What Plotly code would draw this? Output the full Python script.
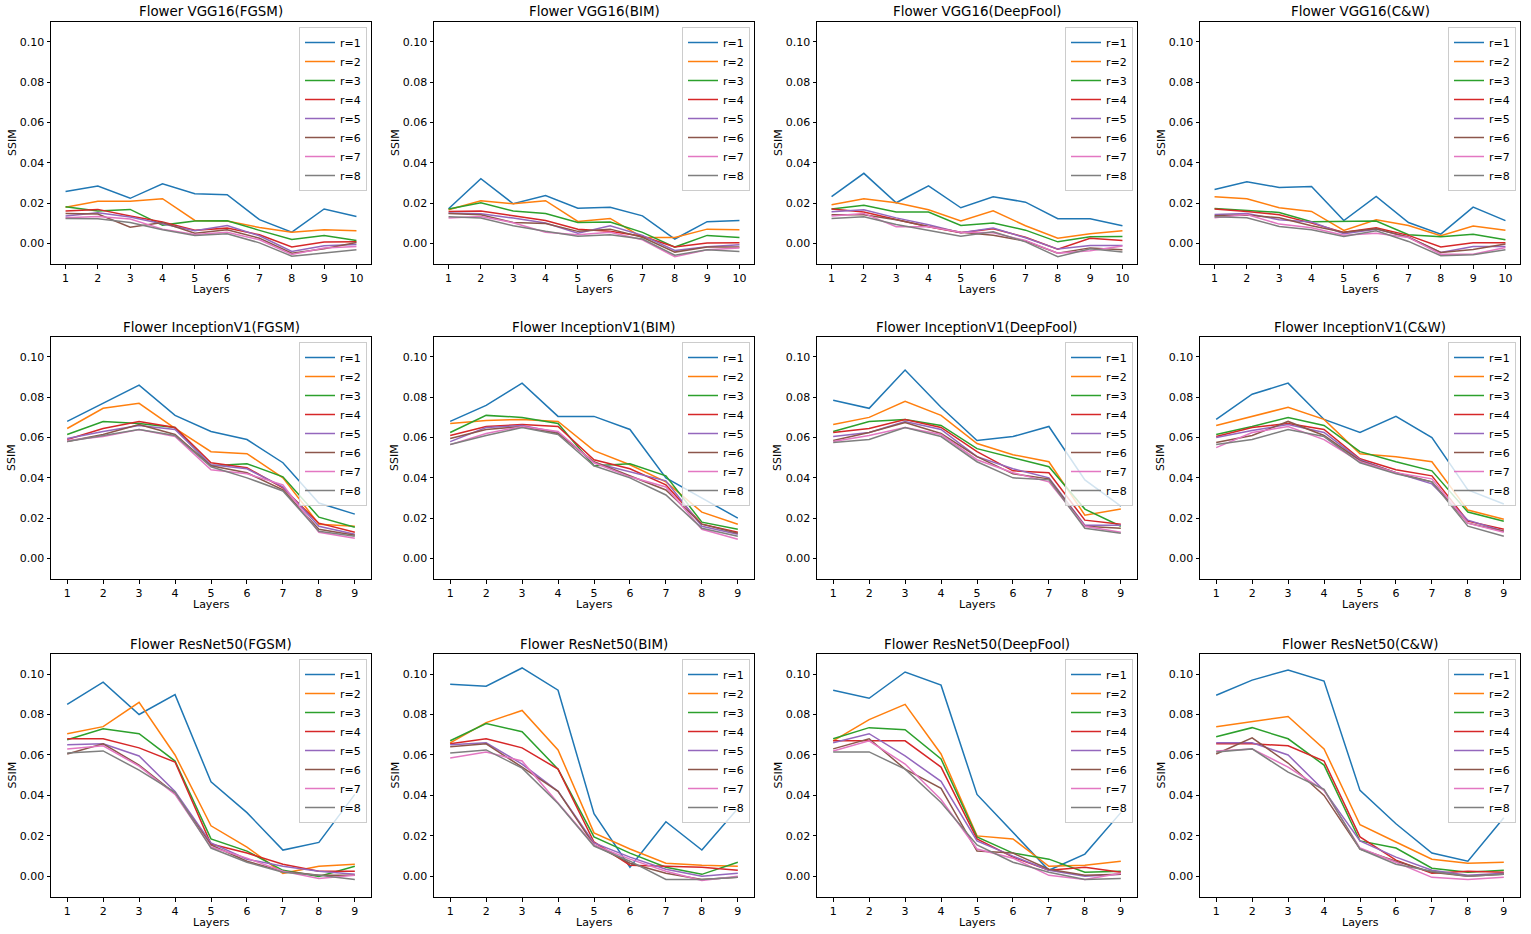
import plotly.graph_objects as go

W, H = 1531, 934

layers10 = list(range(1, 11))
layers9 = list(range(1, 10))
r_labels = ["r=1", "r=2", "r=3", "r=4", "r=5", "r=6", "r=7", "r=8"]
models = ["VGG16", "InceptionV1", "ResNet50"]
attacks = ["FGSM", "BIM", "DeepFool", "C&W"]
y_ticks = [0.00, 0.02, 0.04, 0.06, 0.08, 0.10]

vgg16_fgsm = [
    [0.0258, 0.0285, 0.0224, 0.0296, 0.0247, 0.0242, 0.0118, 0.0056, 0.0171, 0.0134],
    [0.0180, 0.0209, 0.0209, 0.0222, 0.0114, 0.0111, 0.0079, 0.0056, 0.0068, 0.0063],
    [0.0182, 0.0161, 0.0169, 0.0091, 0.0111, 0.0113, 0.0065, 0.0020, 0.0040, 0.0015],
    [0.0161, 0.0169, 0.0136, 0.0106, 0.0065, 0.0076, 0.0043, -0.0018, 0.0007, 0.0008],
    [0.0136, 0.0152, 0.0131, 0.0098, 0.0063, 0.0089, 0.0038, -0.0040, -0.0012, -0.0005],
    [0.0149, 0.0146, 0.0081, 0.0104, 0.0051, 0.0068, 0.0026, -0.0048, -0.0026, 0.0005],
    [0.0127, 0.0134, 0.0121, 0.0071, 0.0045, 0.0056, 0.0018, -0.0055, -0.0023, -0.0015],
    [0.0124, 0.0123, 0.0104, 0.0068, 0.0040, 0.0048, 0.0003, -0.0063, -0.0048, -0.0031],
]
vgg16_bim = [
    [0.0172, 0.0321, 0.0197, 0.0238, 0.0175, 0.0180, 0.0137, 0.0022, 0.0108, 0.0114],
    [0.0167, 0.0212, 0.0197, 0.0212, 0.0109, 0.0124, 0.0030, 0.0030, 0.0071, 0.0068],
    [0.0171, 0.0202, 0.0161, 0.0149, 0.0104, 0.0106, 0.0055, -0.0018, 0.0040, 0.0030],
    [0.0159, 0.0161, 0.0137, 0.0114, 0.0071, 0.0061, 0.0036, -0.0018, 0.0002, 0.0003],
    [0.0151, 0.0147, 0.0126, 0.0101, 0.0051, 0.0088, 0.0040, -0.0035, -0.0017, -0.0007],
    [0.0149, 0.0142, 0.0104, 0.0099, 0.0060, 0.0071, 0.0031, -0.0043, -0.0018, -0.0018],
    [0.0126, 0.0134, 0.0103, 0.0056, 0.0043, 0.0055, 0.0018, -0.0066, -0.0031, -0.0023],
    [0.0132, 0.0126, 0.0088, 0.0060, 0.0036, 0.0043, 0.0022, -0.0058, -0.0031, -0.0040],
]
vgg16_deepfool = [
    [0.0232, 0.0348, 0.0202, 0.0286, 0.0177, 0.0232, 0.0205, 0.0123, 0.0123, 0.0088],
    [0.0192, 0.0222, 0.0202, 0.0167, 0.0111, 0.0162, 0.0088, 0.0026, 0.0048, 0.0063],
    [0.0171, 0.0190, 0.0156, 0.0156, 0.0089, 0.0101, 0.0066, 0.0008, 0.0033, 0.0035],
    [0.0171, 0.0156, 0.0119, 0.0083, 0.0053, 0.0073, 0.0031, -0.0028, 0.0026, 0.0015],
    [0.0157, 0.0167, 0.0127, 0.0093, 0.0053, 0.0076, 0.0028, -0.0028, -0.0010, -0.0010],
    [0.0142, 0.0142, 0.0118, 0.0084, 0.0056, 0.0041, 0.0012, -0.0048, -0.0022, -0.0031],
    [0.0136, 0.0149, 0.0083, 0.0083, 0.0055, 0.0053, 0.0015, -0.0048, -0.0036, -0.0013],
    [0.0124, 0.0132, 0.0094, 0.0065, 0.0036, 0.0058, 0.0008, -0.0066, -0.0026, -0.0043],
]
vgg16_cw = [
    [0.0268, 0.0306, 0.0278, 0.0283, 0.0114, 0.0233, 0.0104, 0.0046, 0.0180, 0.0113],
    [0.0232, 0.0222, 0.0177, 0.0159, 0.0065, 0.0118, 0.0089, 0.0038, 0.0086, 0.0065],
    [0.0174, 0.0164, 0.0154, 0.0108, 0.0111, 0.0111, 0.0043, 0.0033, 0.0046, 0.0018],
    [0.0171, 0.0159, 0.0142, 0.0101, 0.0055, 0.0078, 0.0040, -0.0017, 0.0003, 0.0003],
    [0.0144, 0.0149, 0.0118, 0.0106, 0.0048, 0.0071, 0.0031, -0.0045, -0.0015, -0.0015],
    [0.0137, 0.0141, 0.0127, 0.0088, 0.0055, 0.0073, 0.0031, -0.0045, -0.0030, -0.0003],
    [0.0127, 0.0144, 0.0096, 0.0078, 0.0041, 0.0050, 0.0030, -0.0053, -0.0053, -0.0020],
    [0.0132, 0.0127, 0.0084, 0.0068, 0.0035, 0.0063, 0.0010, -0.0061, -0.0056, -0.0031],
]

inception_fgsm = [
    [0.0680, 0.0770, 0.0860, 0.0710, 0.0630, 0.0590, 0.0475, 0.0275, 0.0220],
    [0.0645, 0.0745, 0.0770, 0.0645, 0.0530, 0.0520, 0.0400, 0.0170, 0.0160],
    [0.0615, 0.0680, 0.0670, 0.0650, 0.0460, 0.0470, 0.0405, 0.0205, 0.0155],
    [0.0590, 0.0645, 0.0680, 0.0650, 0.0475, 0.0450, 0.0350, 0.0175, 0.0130],
    [0.0595, 0.0630, 0.0660, 0.0640, 0.0465, 0.0445, 0.0355, 0.0160, 0.0120],
    [0.0580, 0.0615, 0.0665, 0.0615, 0.0460, 0.0425, 0.0340, 0.0145, 0.0115],
    [0.0585, 0.0605, 0.0640, 0.0605, 0.0440, 0.0420, 0.0365, 0.0130, 0.0100],
    [0.0580, 0.0610, 0.0640, 0.0610, 0.0455, 0.0400, 0.0335, 0.0135, 0.0110],
]
inception_bim = [
    [0.0680, 0.0760, 0.0870, 0.0705, 0.0705, 0.0640, 0.0400, 0.0300, 0.0200],
    [0.0670, 0.0685, 0.0690, 0.0680, 0.0535, 0.0465, 0.0380, 0.0230, 0.0170],
    [0.0625, 0.0710, 0.0700, 0.0670, 0.0460, 0.0470, 0.0410, 0.0180, 0.0145],
    [0.0610, 0.0655, 0.0665, 0.0655, 0.0490, 0.0445, 0.0365, 0.0170, 0.0130],
    [0.0580, 0.0650, 0.0660, 0.0625, 0.0475, 0.0430, 0.0385, 0.0160, 0.0120],
    [0.0595, 0.0640, 0.0655, 0.0620, 0.0480, 0.0410, 0.0340, 0.0170, 0.0125],
    [0.0565, 0.0620, 0.0655, 0.0630, 0.0475, 0.0405, 0.0355, 0.0145, 0.0095],
    [0.0565, 0.0610, 0.0650, 0.0615, 0.0460, 0.0400, 0.0315, 0.0150, 0.0110],
]
inception_deepfool = [
    [0.0785, 0.0745, 0.0935, 0.0750, 0.0585, 0.0605, 0.0655, 0.0390, 0.0260],
    [0.0665, 0.0700, 0.0780, 0.0710, 0.0570, 0.0515, 0.0480, 0.0215, 0.0245],
    [0.0630, 0.0680, 0.0690, 0.0660, 0.0545, 0.0500, 0.0455, 0.0245, 0.0160],
    [0.0625, 0.0645, 0.0690, 0.0650, 0.0530, 0.0435, 0.0425, 0.0190, 0.0170],
    [0.0605, 0.0625, 0.0680, 0.0640, 0.0505, 0.0445, 0.0400, 0.0165, 0.0165],
    [0.0585, 0.0625, 0.0675, 0.0620, 0.0505, 0.0420, 0.0395, 0.0160, 0.0150],
    [0.0580, 0.0610, 0.0650, 0.0615, 0.0490, 0.0425, 0.0380, 0.0160, 0.0130],
    [0.0575, 0.0590, 0.0650, 0.0605, 0.0480, 0.0400, 0.0390, 0.0150, 0.0125],
]
inception_cw = [
    [0.0690, 0.0815, 0.0870, 0.0690, 0.0625, 0.0705, 0.0600, 0.0340, 0.0270],
    [0.0660, 0.0705, 0.0750, 0.0690, 0.0520, 0.0505, 0.0480, 0.0240, 0.0195],
    [0.0615, 0.0655, 0.0700, 0.0660, 0.0530, 0.0480, 0.0435, 0.0230, 0.0185],
    [0.0605, 0.0650, 0.0670, 0.0640, 0.0495, 0.0440, 0.0410, 0.0185, 0.0145],
    [0.0600, 0.0635, 0.0665, 0.0625, 0.0490, 0.0425, 0.0370, 0.0190, 0.0135],
    [0.0575, 0.0610, 0.0680, 0.0610, 0.0485, 0.0425, 0.0380, 0.0175, 0.0135],
    [0.0550, 0.0625, 0.0655, 0.0590, 0.0480, 0.0425, 0.0395, 0.0175, 0.0130],
    [0.0565, 0.0590, 0.0640, 0.0605, 0.0475, 0.0420, 0.0380, 0.0160, 0.0110],
]

resnet_fgsm = [
    [0.0850, 0.0960, 0.0800, 0.0898, 0.0467, 0.0315, 0.0130, 0.0168, 0.0405],
    [0.0705, 0.0740, 0.0860, 0.0600, 0.0250, 0.0145, 0.0015, 0.0050, 0.0060],
    [0.0675, 0.0730, 0.0705, 0.0570, 0.0185, 0.0125, 0.0030, 0.0000, 0.0050],
    [0.0680, 0.0680, 0.0635, 0.0565, 0.0160, 0.0115, 0.0060, 0.0025, 0.0025],
    [0.0650, 0.0655, 0.0595, 0.0420, 0.0165, 0.0085, 0.0050, 0.0025, 0.0010],
    [0.0605, 0.0655, 0.0550, 0.0410, 0.0155, 0.0075, 0.0025, 0.0005, 0.0005],
    [0.0630, 0.0645, 0.0545, 0.0405, 0.0145, 0.0090, 0.0025, -0.0010, 0.0005],
    [0.0610, 0.0620, 0.0525, 0.0415, 0.0140, 0.0070, 0.0020, 0.0005, -0.0015],
]
resnet_bim = [
    [0.0950, 0.0940, 0.1030, 0.0920, 0.0310, 0.0045, 0.0270, 0.0130, 0.0335],
    [0.0660, 0.0760, 0.0820, 0.0625, 0.0215, 0.0135, 0.0065, 0.0055, 0.0050],
    [0.0670, 0.0755, 0.0715, 0.0530, 0.0195, 0.0115, 0.0045, 0.0010, 0.0070],
    [0.0655, 0.0680, 0.0635, 0.0530, 0.0170, 0.0055, 0.0050, 0.0045, 0.0030],
    [0.0650, 0.0660, 0.0555, 0.0420, 0.0165, 0.0095, 0.0035, 0.0000, 0.0015],
    [0.0640, 0.0655, 0.0540, 0.0420, 0.0155, 0.0065, 0.0015, -0.0015, -0.0005],
    [0.0585, 0.0615, 0.0570, 0.0360, 0.0155, 0.0085, 0.0025, -0.0020, 0.0000],
    [0.0610, 0.0625, 0.0535, 0.0360, 0.0150, 0.0075, -0.0015, -0.0015, -0.0005],
]
resnet_deepfool = [
    [0.0920, 0.0880, 0.1010, 0.0945, 0.0405, 0.0220, 0.0030, 0.0110, 0.0315],
    [0.0670, 0.0775, 0.0850, 0.0605, 0.0200, 0.0185, 0.0050, 0.0055, 0.0075],
    [0.0680, 0.0735, 0.0725, 0.0580, 0.0195, 0.0115, 0.0085, 0.0020, 0.0025],
    [0.0670, 0.0670, 0.0670, 0.0540, 0.0185, 0.0095, 0.0030, 0.0045, 0.0020],
    [0.0660, 0.0705, 0.0595, 0.0470, 0.0175, 0.0100, 0.0030, 0.0000, 0.0010],
    [0.0630, 0.0680, 0.0530, 0.0435, 0.0125, 0.0115, 0.0035, 0.0005, 0.0010],
    [0.0620, 0.0670, 0.0555, 0.0380, 0.0135, 0.0090, 0.0005, -0.0015, 0.0015],
    [0.0615, 0.0615, 0.0530, 0.0365, 0.0155, 0.0070, 0.0020, -0.0015, -0.0010],
]
resnet_cw = [
    [0.0895, 0.0970, 0.1020, 0.0965, 0.0425, 0.0260, 0.0115, 0.0075, 0.0290],
    [0.0740, 0.0765, 0.0790, 0.0630, 0.0255, 0.0170, 0.0085, 0.0065, 0.0070],
    [0.0690, 0.0735, 0.0680, 0.0550, 0.0175, 0.0140, 0.0040, 0.0020, 0.0030],
    [0.0655, 0.0655, 0.0645, 0.0570, 0.0195, 0.0080, 0.0015, 0.0025, 0.0020],
    [0.0660, 0.0660, 0.0600, 0.0425, 0.0175, 0.0095, 0.0030, 0.0005, 0.0015],
    [0.0605, 0.0685, 0.0560, 0.0400, 0.0135, 0.0075, 0.0020, 0.0000, 0.0010],
    [0.0620, 0.0630, 0.0540, 0.0425, 0.0140, 0.0070, -0.0005, -0.0015, -0.0005],
    [0.0615, 0.0630, 0.0515, 0.0430, 0.0135, 0.0060, 0.0025, 0.0000, 0.0010],
]

panels = [
    [vgg16_fgsm, vgg16_bim, vgg16_deepfool, vgg16_cw],
    [inception_fgsm, inception_bim, inception_deepfool, inception_cw],
    [resnet_fgsm, resnet_bim, resnet_deepfool, resnet_cw],
]

colors = ["#1f77b4", "#ff7f0e", "#2ca02c", "#d62728",
          "#9467bd", "#8c564b", "#e377c2", "#7f7f7f"]

FONT = "DejaVu Sans"
col_px = [(51, 371), (434, 754), (817, 1137), (1200, 1520)]
row_px = [(22, 264), (337, 579), (654, 897)]


def fx(px):
    return px / W


def fy(py):
    return 1 - py / H


fig = go.Figure()
layout = dict(
    width=W, height=H, autosize=False,
    margin=dict(l=0, r=0, t=0, b=0),
    paper_bgcolor="white", plot_bgcolor="white",
    font=dict(family=FONT, size=11, color="black"),
    annotations=[],
)

k = 0
for ri, model in enumerate(models):
    for ci, attack in enumerate(attacks):
        k += 1
        data = panels[ri][ci]
        n = len(data[0])
        xs = layers10 if n == 10 else layers9
        xa = "x" if k == 1 else f"x{k}"
        ya = "y" if k == 1 else f"y{k}"
        lg = "legend" if k == 1 else f"legend{k}"
        for si, series in enumerate(data):
            fig.add_trace(go.Scatter(
                x=xs, y=series, mode="lines", name=r_labels[si],
                line=dict(color=colors[si], width=1.5),
                xaxis=xa, yaxis=ya, legend=lg, showlegend=True,
            ))
        x0, x1 = col_px[ci]
        y0, y1 = row_px[ri]
        axis_common = dict(
            showline=True, linecolor="black", linewidth=1, mirror=True,
            showgrid=False, zeroline=False, ticks="outside", ticklen=3.5,
            tickwidth=0.8, tickcolor="black",
            tickfont=dict(family=FONT, size=11, color="black"),
        )
        layout["xaxis" if k == 1 else f"xaxis{k}"] = dict(
            axis_common, domain=[fx(x0), fx(x1)],
            anchor=ya, range=[0.55, n + 0.45],
            tickmode="array", tickvals=xs, ticktext=[str(v) for v in xs],
        )
        layout["yaxis" if k == 1 else f"yaxis{k}"] = dict(
            axis_common, domain=[fy(y1), fy(y0)],
            anchor=xa, range=[-0.0102, 0.1099],
            tickmode="array", tickvals=y_ticks,
            ticktext=[f"{v:.2f}" for v in y_ticks],
        )
        layout[lg] = dict(
            x=fx(x1 - 4), y=fy(y0 + 5), xanchor="right", yanchor="top",
            xref="paper", yref="paper",
            bgcolor="rgba(255,255,255,0.8)", bordercolor="#cccccc",
            borderwidth=1, font=dict(family=FONT, size=11, color="black"),
            itemwidth=30, tracegroupgap=0,
        )
        cx = (x0 + x1) / 2
        layout["annotations"].append(dict(
            text=f"Flower {model}({attack})", x=fx(cx), y=fy(y0 - 10),
            xref="paper", yref="paper", showarrow=False,
            xanchor="center", yanchor="middle",
            font=dict(family=FONT, size=13.4, color="black"),
        ))
        layout["annotations"].append(dict(
            text="Layers", x=fx(cx), y=fy(y1 + 25),
            xref="paper", yref="paper", showarrow=False,
            xanchor="center", yanchor="middle",
            font=dict(family=FONT, size=11, color="black"),
        ))
        layout["annotations"].append(dict(
            text="SSIM", x=fx(x0 - 39), y=fy((y0 + y1) / 2),
            xref="paper", yref="paper", showarrow=False, textangle=-90,
            xanchor="center", yanchor="middle",
            font=dict(family=FONT, size=11, color="black"),
        ))

fig.update_layout(**layout)
fig.write_html(
    "out.html",
    config={"displayModeBar": False},
    post_script="document.body.style.margin='0';document.body.style.overflow='hidden';",
)
